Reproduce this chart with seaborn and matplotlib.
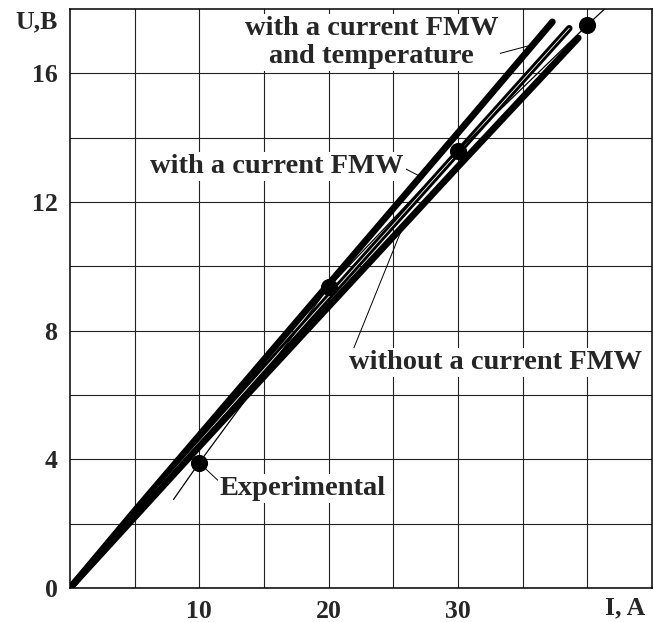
import numpy as np
import pandas as pd
import seaborn as sns
import matplotlib.pyplot as plt

# values
i_temp = [0, 5, 10, 20, 30, 37.3]
u_temp = [0, 2.4, 4.75, 9.45, 14.15, 17.6]

i_fmw = [0, 5, 10, 20, 30, 38.6]
u_fmw = [0, 2.3, 4.55, 9.05, 13.55, 17.4]

i_nofmw = [0, 5, 10, 20, 30, 39.3]
u_nofmw = [0, 2.2, 4.4, 8.75, 13.1, 17.1]

i_exp_line = [8, 10, 20, 30, 40, 41.6]
u_exp_line = [2.75, 3.9, 9.35, 13.6, 17.5, 18.1]

i_exp = [10, 20, 30, 40]
u_exp = [3.9, 9.35, 13.6, 17.5]

x_major = [10, 20, 30]
y_major = [0, 4, 8, 12, 16]


def main():
    sns.set_style("white")
    plt.rcParams['font.family'] = ['Liberation Serif', 'DejaVu Serif']
    plt.rcParams['font.weight'] = 'bold'

    fig = plt.figure(figsize=(6.54, 6.22), dpi=100)
    ax = fig.add_axes([70 / 654, 34 / 622, 582 / 654, 579 / 622])

    sns.lineplot(x=i_temp, y=u_temp, ax=ax, color='black', lw=4.8, sort=False)
    sns.lineplot(x=i_fmw, y=u_fmw, ax=ax, color='black', lw=4.8, sort=False)
    sns.lineplot(x=i_fmw, y=u_fmw, ax=ax, color='white', lw=0.6, sort=False)
    sns.lineplot(x=i_nofmw, y=u_nofmw, ax=ax, color='black', lw=4.8, sort=False)
    sns.lineplot(x=i_exp_line, y=u_exp_line, ax=ax, color='black', lw=0.9, sort=False)
    sns.scatterplot(x=i_exp, y=u_exp, ax=ax, color='black', s=130, edgecolor='black', zorder=5)

    ax.set_xlim(0, 45)
    ax.set_ylim(0, 18)
    ax.set_xticks(x_major)
    ax.set_yticks(y_major)
    ax.set_xticks(np.arange(5, 45, 5), minor=True)
    ax.set_yticks(np.arange(2, 18, 2), minor=True)
    ax.grid(True, which='both', color='#222222', lw=0.8)
    ax.tick_params(which='both', length=0, labelsize=18.5, pad=9)
    for lab in ax.get_xticklabels() + ax.get_yticklabels():
        lab.set_fontweight('bold')
    for sp in ax.spines.values():
        sp.set_color('black')
        sp.set_linewidth(1.1)

    ax.text(-2.55, 17.6, 'U,B', fontsize=18.5, fontweight='bold', ha='center', va='center', clip_on=False)
    ax.text(42.9, -0.62, 'I, A', fontsize=18.5, fontweight='bold', ha='center', va='center', clip_on=False)

    box = dict(facecolor='white', edgecolor='none', pad=1.5)
    line = dict(arrowstyle='-', lw=0.7, color='black', shrinkA=0, shrinkB=0)

    ax.annotate('with a current FMW\nand temperature', xy=(35.4, 16.85), xytext=(23.3, 16.95),
                fontsize=20.5, fontweight='bold', ha='center', va='center', linespacing=1.15,
                bbox=box, arrowprops=dict(line, relpos=(0.93, 0.2)))
    ax.annotate('with a current FMW', xy=(27.3, 12.75), xytext=(16.0, 13.1),
                fontsize=20.5, fontweight='bold', ha='center', va='center',
                bbox=box, arrowprops=dict(line, relpos=(1.0, 0.45)))
    ax.annotate('without a current FMW', xy=(25.6, 11.1), xytext=(32.9, 7.0),
                fontsize=20.5, fontweight='bold', ha='center', va='center',
                bbox=box, arrowprops=dict(line, relpos=(0.01, 0.9)))
    ax.annotate('Experimental', xy=(10.1, 3.85), xytext=(18.0, 3.1),
                fontsize=20.5, fontweight='bold', ha='center', va='center',
                bbox=box, arrowprops=dict(line, relpos=(0.0, 0.75)))

    fig.savefig('out.png', dpi=100)


if __name__ == "__main__":
    main()
